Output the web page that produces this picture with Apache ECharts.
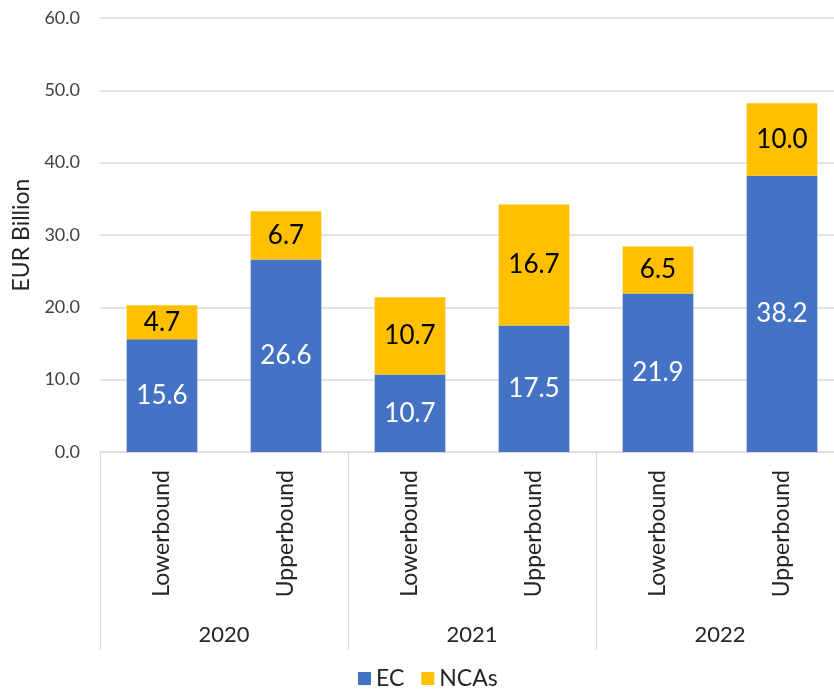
<!DOCTYPE html>
<html>
<head>
<meta charset="utf-8">
<script src="https://cdn.jsdelivr.net/npm/echarts@6/dist/echarts.min.js"></script>
<style>
  html, body { margin: 0; padding: 0; background: #fff; }
  #chart { width: 834px; height: 693px; }
</style>
</head>
<body>
<div id="chart"></div>
<script>
// Bound estimates per year, split by EC and NCAs (EUR billion)
const boundLabels = ['Lowerbound', 'Upperbound', 'Lowerbound', 'Upperbound', 'Lowerbound', 'Upperbound'];
const years = ['2020', '2021', '2022'];
const ecValues = [15.6, 26.6, 10.7, 17.5, 21.9, 38.2];
const ncaValues = [4.7, 6.7, 10.7, 16.7, 6.5, 10.0];
const yTicks = { min: 0, max: 60, interval: 10 };

const FONT = 'Lato';
const chart = echarts.init(document.getElementById('chart'), null, { renderer: 'canvas' });

chart.setOption({
  animation: false,
  textStyle: { fontFamily: FONT },
  // plot area runs a little past the right edge of the canvas
  grid: { left: 100, width: 744, top: 18, bottom: 241, containLabel: false, outerBoundsMode: 'none' },
  legend: {
    data: ['EC', 'NCAs'],
    top: 662,
    left: 353,
    icon: 'rect',
    itemWidth: 13,
    itemHeight: 13,
    itemGap: 17,
    textStyle: { fontFamily: FONT, fontSize: 23, color: '#262626' }
  },
  xAxis: [
    {
      type: 'category',
      data: boundLabels,
      position: 'bottom',
      axisLine: { show: true, lineStyle: { color: '#d9d9d9', width: 1 } },
      axisTick: { show: false },
      axisLabel: {
        rotate: 90,
        margin: 18,
        interval: 0,
        fontFamily: FONT,
        fontSize: 23,
        color: '#262626'
      }
    },
    {
      type: 'category',
      data: years,
      position: 'bottom',
      offset: 0,
      axisLine: { show: false },
      axisTick: { show: true, length: 198, interval: 0, lineStyle: { color: '#d9d9d9', width: 1 } },
      axisLabel: {
        margin: 172,
        interval: 0,
        fontFamily: FONT,
        fontSize: 22,
        color: '#262626'
      },
      splitLine: { show: false }
    }
  ],
  yAxis: {
    type: 'value',
    min: yTicks.min,
    max: yTicks.max,
    interval: yTicks.interval,
    name: 'EUR Billion',
    nameLocation: 'middle',
    nameGap: 66,
    nameTextStyle: { fontFamily: FONT, fontSize: 23, color: '#262626' },
    axisLine: { show: false },
    axisTick: { show: false },
    axisLabel: {
      margin: 20,
      fontFamily: FONT,
      fontSize: 18,
      color: '#404040',
      formatter: v => v.toFixed(1)
    },
    splitLine: { lineStyle: { color: '#d9d9d9', width: 1.5 } }
  },
  series: [
    {
      name: 'EC',
      type: 'bar',
      stack: 'total',
      xAxisIndex: 0,
      data: ecValues,
      barCategoryGap: '43%',
      itemStyle: { color: '#4472C4' },
      label: {
        show: true,
        position: 'inside',
        fontFamily: FONT,
        fontSize: 26,
        color: '#ffffff',
        formatter: p => p.value.toFixed(1)
      }
    },
    {
      name: 'NCAs',
      type: 'bar',
      stack: 'total',
      xAxisIndex: 0,
      data: ncaValues,
      barCategoryGap: '43%',
      itemStyle: { color: '#FFC000' },
      label: {
        show: true,
        position: 'inside',
        fontFamily: FONT,
        fontSize: 26,
        color: '#000000',
        formatter: p => p.value.toFixed(1)
      }
    }
  ]
});
</script>
</body>
</html>
